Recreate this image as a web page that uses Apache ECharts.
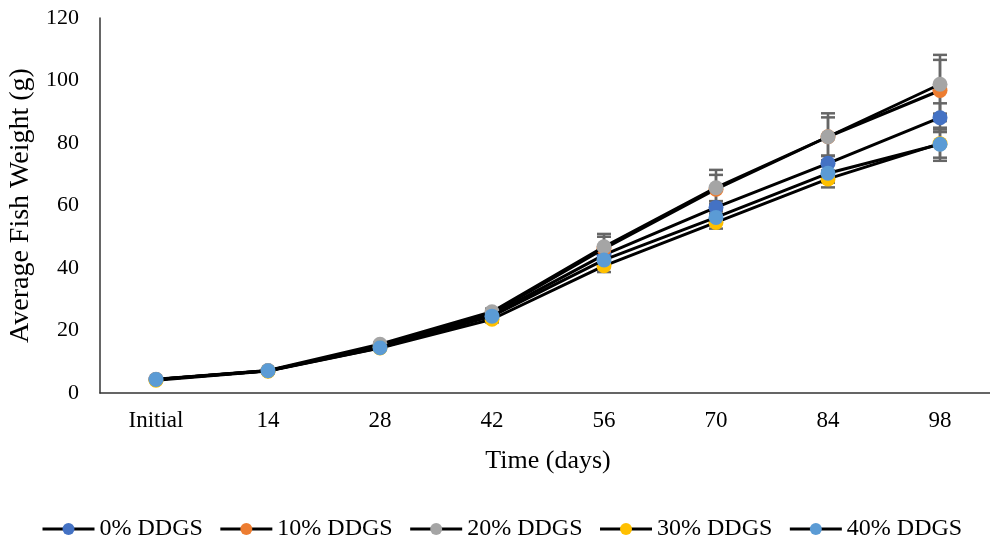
<!DOCTYPE html>
<html><head><meta charset="utf-8">
<script src="https://cdn.jsdelivr.net/npm/echarts@6/dist/echarts.min.js"></script>
<style>html,body{margin:0;padding:0;background:#fff}#c{width:990px;height:539px}</style>
</head><body><div id="c"></div>
<script>
const categories = ['Initial','14','28','42','56','70','84','98'];
const seriesNames = ['0% DDGS','10% DDGS','20% DDGS','30% DDGS','40% DDGS'];
const colors = ['#4472C4','#ED7D31','#A5A5A5','#FFC000','#5B9BD5'];
const d0  = [4.3, 7.1, 14.8, 25.0, 44.2, 59.4, 73.5, 88.1];
const d10 = [4.3, 7.1, 15.0, 25.5, 46.2, 65.2, 82.0, 96.8];
const d20 = [4.4, 7.2, 15.6, 26.0, 46.8, 65.7, 82.0, 98.8];
const d30 = [4.1, 7.0, 14.4, 23.6, 40.7, 54.6, 68.5, 79.8];
const d40 = [4.3, 7.1, 14.5, 24.6, 42.6, 56.2, 70.3, 79.6];
const e0  = [0.2, 0.3, 0.5, 1.0, 2.0, 2.0, 2.5, 4.6];
const e10 = [0.2, 0.3, 0.5, 1.0, 3.8, 4.6, 6.2, 9.8];
const e20 = [0.2, 0.3, 0.5, 1.0, 4.1, 5.7, 7.5, 9.4];
const e30 = [0.2, 0.3, 0.5, 1.0, 2.0, 2.0, 2.7, 4.5];
const e40 = [0.2, 0.3, 0.5, 1.0, 2.0, 2.0, 3.0, 5.3];
const yTicks = [0, 20, 40, 60, 80, 100, 120];

const dataSets = [d0, d10, d20, d30, d40];
const errSets = [e0, e10, e20, e30, e40];
const font = 'Liberation Serif';

const chart = echarts.init(document.getElementById('c'));
const series = [];
dataSets.forEach((d, i) => {
  const err = errSets[i];
  series.push({
    type: 'custom',
    name: seriesNames[i] + ' err',
    silent: true,
    z: 1,
    data: d.map((v, k) => [k, v - err[k], v + err[k]]),
    renderItem: function (params, api) {
      const x = api.value(0);
      const lo = api.coord([x, api.value(1)]);
      const hi = api.coord([x, api.value(2)]);
      const hw = 7;
      const st = { stroke: '#666666', lineWidth: 2.5 };
      return {
        type: 'group',
        children: [
          { type: 'line', shape: { x1: lo[0], y1: lo[1], x2: hi[0], y2: hi[1] }, style: st },
          { type: 'line', shape: { x1: hi[0] - hw, y1: hi[1], x2: hi[0] + hw, y2: hi[1] }, style: st },
          { type: 'line', shape: { x1: lo[0] - hw, y1: lo[1], x2: lo[0] + hw, y2: lo[1] }, style: st }
        ]
      };
    }
  });
});
dataSets.forEach((d, i) => {
  series.push({
    type: 'line',
    name: seriesNames[i],
    data: d,
    z: 3 + i,
    symbol: 'circle',
    symbolSize: 15,
    itemStyle: { color: colors[i] },
    lineStyle: { color: '#000', width: 3 },
    emphasis: { disabled: true },
    animation: false
  });
});

chart.setOption({
  animation: false,
  grid: { left: 100, top: 18, width: 896, height: 375, containLabel: false, outerBoundsMode: 'none' },
  legend: {
    data: seriesNames,
    top: 512,
    left: 36,
    itemWidth: 52,
    itemHeight: 15,
    itemGap: 16,
    textStyle: { fontFamily: font, fontSize: 24, color: '#000' },
    lineStyle: { color: '#000', width: 3 }
  },
  xAxis: {
    type: 'category',
    data: categories,
    boundaryGap: true,
    name: 'Time (days)',
    nameLocation: 'middle',
    nameGap: 55,
    nameTextStyle: { fontFamily: font, fontSize: 26, color: '#000' },
    axisLine: { lineStyle: { color: '#333', width: 1.5 } },
    axisTick: { show: false },
    axisLabel: { fontFamily: font, fontSize: 23, color: '#000', margin: 16 },
    splitLine: { show: false }
  },
  yAxis: {
    type: 'value',
    min: 0, max: 120, interval: 20,
    name: 'Average Fish Weight (g)',
    nameLocation: 'middle',
    nameGap: 64,
    nameTextStyle: { fontFamily: font, fontSize: 28, color: '#000' },
    axisLine: { show: true, lineStyle: { color: '#333', width: 1.5 } },
    axisTick: { show: false },
    axisLabel: { fontFamily: font, fontSize: 22, color: '#000', margin: 21,
      formatter: v => yTicks.includes(v) ? String(v) : '' },
    splitLine: { show: false }
  },
  series: series
});
</script>
</body></html>
